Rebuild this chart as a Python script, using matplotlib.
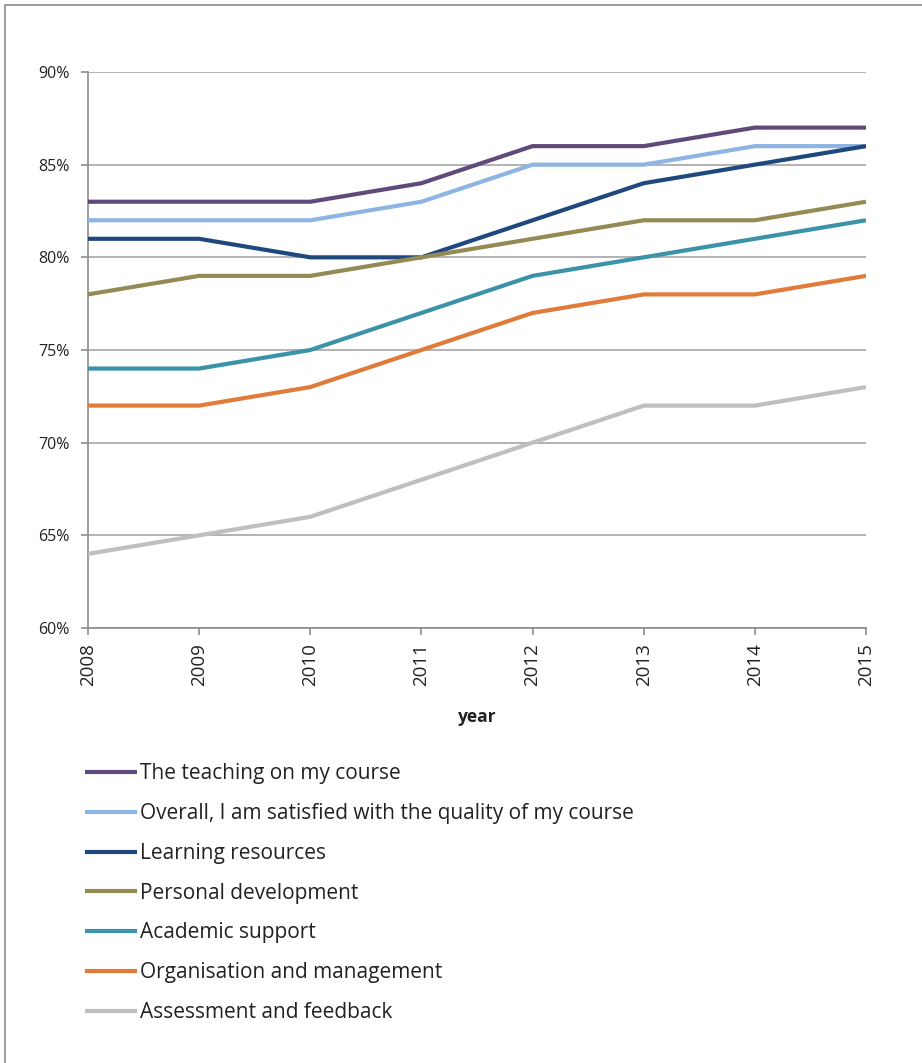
import matplotlib.pyplot as plt
from matplotlib.patches import Rectangle
from matplotlib.ticker import FuncFormatter

years = [2008, 2009, 2010, 2011, 2012, 2013, 2014, 2015]

teaching = [83, 83, 83, 84, 86, 86, 87, 87]
overall = [82, 82, 82, 83, 85, 85, 86, 86]
learning = [81, 81, 80, 80, 82, 84, 85, 86]
personal = [78, 79, 79, 80, 81, 82, 82, 83]
academic = [74, 74, 75, 77, 79, 80, 81, 82]
organisation = [72, 72, 73, 75, 77, 78, 78, 79]
assessment = [64, 65, 66, 68, 70, 72, 72, 73]

labels = [
    "The teaching on my course",
    "Overall, I am satisfied with the quality of my course",
    "Learning resources",
    "Personal development",
    "Academic support",
    "Organisation and management",
    "Assessment and feedback",
]
colors = ["#604A7B", "#8EB4E3", "#1F497D", "#948A54", "#3A93A8", "#E07B39", "#BFBFBF"]
series = [teaching, overall, learning, personal, academic, organisation, assessment]

plt.rcParams['font.family'] = ['Open Sans', 'DejaVu Sans']

W, H = 922, 1063
fig = plt.figure(figsize=(W / 100, H / 100), dpi=100)

# outer frame like the Excel chart area
fig.patches.append(Rectangle((5 / W, -0.01), 1.0, 1 - 5 / H + 0.01, transform=fig.transFigure,
                             fill=False, edgecolor="#8c8c8c", linewidth=1.2))

ax = fig.add_axes([88 / W, 1 - 628 / H, 778 / W, 556 / H])

for vals, lab, col in zip(series, labels, colors):
    ax.plot(years, vals, color=col, linewidth=3, label=lab, solid_capstyle="butt", zorder=3)

ax.set_xlim(2008, 2015)
ax.set_ylim(60, 90)
ax.set_yticks(range(60, 91, 5))
ax.yaxis.set_major_formatter(FuncFormatter(lambda v, p: f"{int(v)}%"))
ax.set_xticks(years)
ax.set_xticklabels([str(y) for y in years], rotation=90)
ax.grid(axis="y", color="#A6A6A6", linewidth=1.2, zorder=0)
ax.set_axisbelow(True)

for side in ["top", "right"]:
    ax.spines[side].set_visible(False)
for side in ["left", "bottom"]:
    ax.spines[side].set_color("#8c8c8c")
    ax.spines[side].set_linewidth(1.2)

ax.tick_params(axis="both", colors="#8c8c8c", length=5, width=1.2, labelcolor="#222222")
ax.tick_params(axis="y", pad=8, labelsize=11.5)
ax.tick_params(axis="x", pad=6, labelsize=13.5)
ax.set_xlabel("year", fontsize=12.5, fontweight="bold", color="#222222", labelpad=16)

leg = fig.legend(loc="upper left", bbox_to_anchor=(77 / W, 1 - 755 / H), frameon=False,
                 fontsize=15, handlelength=2.5, handletextpad=0.1, labelspacing=0.9,
                 borderaxespad=0)
for t in leg.get_texts():
    t.set_color("#222222")

fig.savefig("out.png", dpi=100)
